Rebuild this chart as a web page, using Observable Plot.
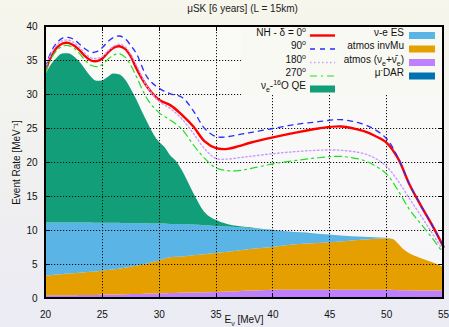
<!DOCTYPE html>
<html><head><meta charset="utf-8">
<script src="https://cdn.jsdelivr.net/npm/d3@7"></script>
<script src="https://cdn.jsdelivr.net/npm/@observablehq/plot@0.6"></script>
<style>
html,body{margin:0;padding:0;}
body{width:449px;height:327px;overflow:hidden;background:linear-gradient(#f6f6ec,#ebebf4);font-family:"Liberation Sans",Arial,sans-serif;}
#title{height:18px;line-height:18px;text-align:center;font-size:10px;color:#222;padding-left:36px;box-sizing:border-box;}
svg{display:block;}
</style></head>
<body>
<div id="title">μSK [6 years] (L = 15km)</div>
<div id="chart"></div>
<script>
// ---- stacked components (energy grid in MeV) ----
const stackE = [20,20.5,21,21.5,22,22.5,23,23.5,24,24.5,25,25.5,26,26.5,27,27.5,28,28.5,29,29.5,30,30.5,31,31.5,32,33,34,35,36,37,38,39,40,42,44,46,48,50,50.5,51,51.5,52,53,54,55];
const atmosNue = [0.4,0.4,0.4,0.4,0.4,0.4,0.45,0.45,0.45,0.45,0.5,0.5,0.5,0.5,0.55,0.6,0.6,0.6,0.65,0.65,0.7,0.7,0.75,0.75,0.8,0.8,0.85,0.9,0.95,1.0,1.1,1.15,1.2,1.2,1.2,1.2,1.2,1.2,1.2,1.15,1.15,1.15,1.1,1.1,1.1];
const atmosInvMu = [2.9,2.95,3.05,3.1,3.2,3.25,3.25,3.35,3.4,3.45,3.5,3.6,3.7,3.8,3.9,4.0,4.15,4.3,4.45,4.65,4.8,5.1,5.25,5.3,5.3,5.5,5.6,5.7,5.85,6.0,6.1,6.2,6.3,6.7,6.9,7.1,7.4,7.6,7.5,6.95,6.05,5.45,4.8,4.2,3.5];
const esRate = [7.8,7.75,7.65,7.6,7.5,7.45,7.4,7.3,7.25,7.15,7.05,6.95,6.85,6.75,6.55,6.4,6.25,6.1,5.9,5.65,5.45,5.15,4.9,4.85,4.8,4.5,4.25,4.0,3.7,3.4,3.1,2.8,2.5,1.8,1.35,0.9,0.4,0.05,0,0,0,0,0,0,0];
const qeRate = [21.7,23.2,24.2,24.85,24.9,24.5,23.7,22.6,21.5,20.9,20.95,21.45,21.95,21.85,21.2,19.9,18.3,16.5,14.8,13.25,12.05,11.25,10.1,9.3,8.0,4.8,2.0,0.9,0.4,0.2,0.1,0.05,0.05,0,0,0,0,0,0,0,0,0,0,0,0];

// ---- total-rate curves for different delta ----
const lineE = [20,20.5,21,21.5,22,22.5,23,23.5,24,24.5,25,25.5,26,26.5,27,27.5,28,29,30,31,32,33,34,35,36,37,38,40,42,44,46,48,49,50,51,52,53,54,55];
const delta0 = [33.5,35.6,36.9,37.5,37.6,37.2,36.5,35.6,35.0,34.9,35.3,36.2,36.9,37.1,36.7,35.6,33.8,31.0,29.2,28.4,27.0,25.3,23.1,22.1,22.0,22.4,22.9,23.7,24.4,25.0,25.3,24.6,23.9,22.9,20.6,16.8,13.7,10.8,7.6];
const delta90 = [34.0,36.3,37.6,38.3,38.4,38.1,37.4,36.7,36.2,36.3,36.9,37.8,38.4,38.6,38.2,37.2,36.0,32.4,30.9,30.1,29.6,27.6,25.0,23.8,23.8,24.1,24.4,25.0,25.6,26.0,26.3,25.6,24.8,23.5,20.7,16.8,13.7,10.8,7.6];
const delta180 = [33.8,36.0,37.3,37.9,38.0,37.6,36.9,36.0,35.4,35.3,35.6,36.4,37.1,37.4,37.0,35.9,34.3,31.0,29.0,27.9,26.4,24.3,22.0,20.6,20.5,20.7,20.9,21.3,21.6,21.8,21.8,21.3,20.6,19.4,17.3,14.7,12.2,9.6,7.0];
const delta270 = [33.2,35.3,36.5,37.1,37.2,36.8,36.0,35.0,34.3,34.1,34.4,35.2,35.8,36.0,35.5,34.3,32.6,29.2,27.3,26.2,24.9,22.6,20.6,19.2,18.8,18.8,19.1,19.8,20.3,20.7,20.9,20.3,19.5,18.3,15.9,13.1,11.0,8.9,6.6];

const xTicks = [20,25,30,35,40,45,50,55];
const yTicks = [0,5,10,15,20,25,30,35,40];

const stackNames = ["atmosNue","atmosInvMu","es","qe"];
const stackColors = ["#bf80ff","#e69f00","#5ab4e5","#119e78"];
const stackRows = [];
[atmosNue, atmosInvMu, esRate, qeRate].forEach((arr, k) => {
  arr.forEach((v, i) => stackRows.push({E: stackE[i], v, s: stackNames[k]}));
});
const mk = arr => arr.map((v, i) => ({E: lineE[i], v}));
const inner = a => a.slice(1, -1);

const W = 449, H = 309;
const plot = Plot.plot({
  width: W, height: H,
  marginLeft: 45, marginRight: 6, marginTop: 8, marginBottom: 29,
  style: {background: "transparent", fontFamily: "Liberation Sans, Arial, sans-serif", fontSize: "10px", color: "#111"},
  x: {domain: [20, 55], ticks: xTicks, label: null},
  y: {domain: [0, 40], ticks: yTicks, label: null},
  color: {domain: stackNames, range: stackColors},
  marks: [
    Plot.frame({fill: "#ffffff", fillOpacity: 0.5, stroke: null}),
    Plot.areaY(stackRows, {x: "E", y: "v", fill: "s", order: stackNames, curve: "monotone-x"}),
    Plot.line(mk(delta0), {x: "E", y: "v", stroke: "#ff0000", strokeWidth: 2.4, curve: "catmull-rom"}),
    Plot.line(mk(delta90), {x: "E", y: "v", stroke: "#2b2bff", strokeWidth: 1.3, strokeDasharray: "5,5", curve: "catmull-rom"}),
    Plot.line(mk(delta180), {x: "E", y: "v", stroke: "#c89bff", strokeWidth: 1.4, strokeDasharray: "1.5,2.5", curve: "catmull-rom"}),
    Plot.line(mk(delta270), {x: "E", y: "v", stroke: "#22dd22", strokeWidth: 1.2, strokeDasharray: "7,4,2,4", curve: "catmull-rom"}),
    Plot.axisX({ticks: xTicks, tickSize: 0, tickPadding: 12, anchor: "bottom"}),
    Plot.axisY({ticks: yTicks, tickSize: 0, tickPadding: 8, anchor: "left", label: "Event Rate [MeV⁻¹]", labelAnchor: "center", labelArrow: "none", labelOffset: 33})
  ]
});
document.getElementById("chart").appendChild(plot);

const svg = d3.select(plot);
const sx = plot.scale("x"), sy = plot.scale("y");
const [x0, x1] = sx.range, [y0, y1] = sy.range;

// dotted grid built from short explicit segments, placed just under the curves
let gridD = "", tickD = "";
inner(xTicks).forEach(v => {
  const px = Math.round(sx.apply(v)) + 0.5;
  for (let y = Math.min(y0, y1); y < Math.max(y0, y1); y += 3) gridD += `M${px},${y}v1.2`;
});
inner(yTicks).forEach(v => {
  const py = Math.round(sy.apply(v)) + 0.5;
  for (let x = x0; x < x1; x += 3) gridD += `M${x},${py}h1.2`;
});
xTicks.forEach(v => {
  const px = Math.round(sx.apply(v)) + 0.5;
  tickD += `M${px},${y0}v-5M${px},${y1}v5`;
});
yTicks.forEach(v => {
  const py = Math.round(sy.apply(v)) + 0.5;
  tickD += `M${x0},${py}h5M${x1},${py}h-5`;
});
const firstLine = plot.querySelector('g[aria-label="line"]');
svg.insert("path", () => firstLine).attr("d", gridD).attr("fill", "none").attr("stroke", "#111")
  .attr("stroke-width", 1);
svg.append("path").attr("d", tickD).attr("fill", "none").attr("stroke", "#000").attr("stroke-width", 1);

// x label with subscript
const xl = svg.append("text").attr("x", 244).attr("y", 305).attr("text-anchor", "middle")
  .attr("font-size", 10).attr("fill", "#111");
xl.append("tspan").text("E");
xl.append("tspan").attr("font-size", 7).attr("dy", 2.5).text("ν");
xl.append("tspan").attr("dy", -2.5).text(" [MeV]");

// legend (opaque key box hides the grid behind it)
const lg = svg.append("g").attr("font-size", 10).attr("fill", "#111");
lg.append("rect").attr("x", 241).attr("y", 9).attr("width", 201).attr("height", 68).attr("fill", "#f9f9f3");
const rowY = [17.5, 31, 44.5, 58, 71];
const leftItems = [
  {parts: [["NH - δ = 0", 0], ["o", -1]], stroke: "#ff0000", w: 2.4, dash: null},
  {parts: [["90", 0], ["o", -1]], stroke: "#2b2bff", w: 1.3, dash: "5,5"},
  {parts: [["180", 0], ["o", -1]], stroke: "#c89bff", w: 1.4, dash: "1.5,2.5"},
  {parts: [["270", 0], ["o", -1]], stroke: "#22dd22", w: 1.2, dash: "7,4,2,4"}
];
function addText(x, y, parts) {
  const t = lg.append("text").attr("x", x).attr("y", y).attr("text-anchor", "end").attr("dy", "0.35em");
  let cur = 0;
  parts.forEach(([s, lvl]) => {
    const target = lvl === 0 ? 0 : (lvl > 0 ? 3 : -4);
    const d = target - cur;
    cur = target;
    t.append("tspan").attr("dy", d).attr("font-size", lvl === 0 ? 10 : 7).text(s);
  });
  return t;
}
leftItems.forEach((it, i) => {
  addText(306, rowY[i], it.parts);
  const l = lg.append("line").attr("x1", 310).attr("x2", 335).attr("y1", rowY[i]).attr("y2", rowY[i])
    .attr("stroke", it.stroke).attr("stroke-width", it.w);
  if (it.dash) l.attr("stroke-dasharray", it.dash);
});
addText(306, rowY[4], [["ν", 0], ["e", 1], ["-", 0], ["16", -1], ["O QE", 0]]);
lg.append("rect").attr("x", 310).attr("y", rowY[4] - 3.5).attr("width", 25).attr("height", 7).attr("fill", "#119e78");

const rightItems = [
  {parts: [["ν-e ES", 0]], fill: "#5ab4e5"},
  {parts: [["atmos invMu", 0]], fill: "#e69f00"},
  {parts: [["atmos (ν", 0], ["e", 1], ["+ν̄", 0], ["e", 1], [")", 0]], fill: "#bf80ff"},
  {parts: [["μ", 0], ["-", -1], ["DAR", 0]], fill: "#0072b2"}
];
rightItems.forEach((it, i) => {
  addText(404, rowY[i], it.parts);
  lg.append("rect").attr("x", 409).attr("y", rowY[i] - 3.5).attr("width", 26).attr("height", 7).attr("fill", it.fill);
});

// frame on top
svg.append("rect").attr("x", x0).attr("y", y1).attr("width", x1 - x0).attr("height", y0 - y1)
  .attr("fill", "none").attr("stroke", "#000").attr("stroke-width", 2);
</script>
</body></html>
